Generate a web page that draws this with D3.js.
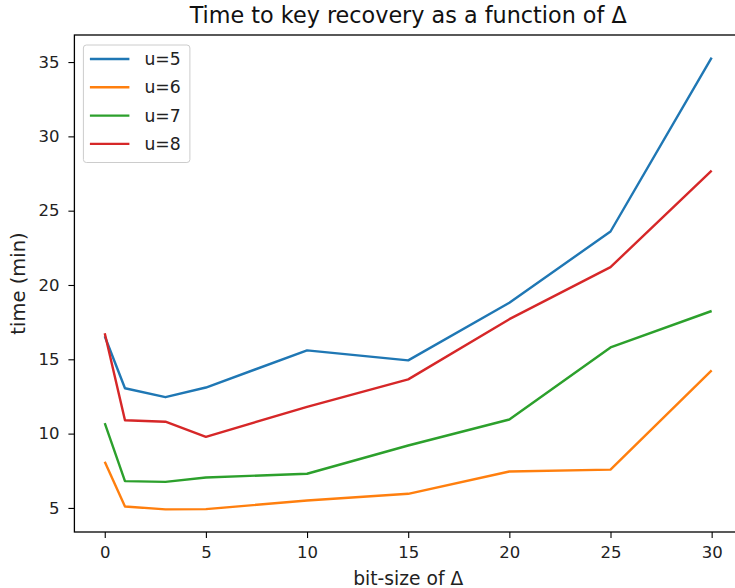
<!DOCTYPE html>
<html>
<head>
<meta charset="utf-8">
<script src="https://cdn.jsdelivr.net/npm/d3@7"></script>
<style>
  body { margin: 0; background: #fff; }
  svg { font-family: "DejaVu Sans", sans-serif; }
</style>
</head>
<body>
<svg id="chart"></svg>
<script>
// bit-size of delta
const deltas = [0, 1, 3, 5, 10, 15, 20, 25, 30];
const u5 = [16.55, 13.05, 12.45, 13.1, 15.6, 14.93, 18.8, 23.6, 35.3];
const u6 = [8.1, 5.1, 4.9, 4.92, 5.5, 5.95, 7.45, 7.58, 14.25];
const u7 = [10.7, 6.8, 6.75, 7.05, 7.3, 9.2, 10.95, 15.8, 18.25];
const u8 = [16.75, 10.9, 10.8, 9.78, 11.8, 13.65, 17.7, 21.2, 27.7];
const seriesNames = ["u=5", "u=6", "u=7", "u=8"];
const colors = ["#1f77b4", "#ff7f0e", "#2ca02c", "#d62728"];
const xTicks = [0, 5, 10, 15, 20, 25, 30];
const yTicks = [5, 10, 15, 20, 25, 30, 35];

const series = [u5, u6, u7, u8].map((vals, i) => ({
  name: seriesNames[i],
  color: colors[i],
  points: vals.map((v, j) => [deltas[j], v])
}));

const W = 735, H = 588;
const margin = { top: 35, right: -7, bottom: 56, left: 74.4 };
const width = W - margin.left - margin.right;
const height = H - margin.top - margin.bottom;

const svg = d3.select('#chart').attr('width', W).attr('height', H);

// matplotlib-ish 5% margins
const allVals = [].concat(u5, u6, u7, u8);
const yMin = d3.min(allVals), yMax = d3.max(allVals);
const yPad = (yMax - yMin) * 0.05;
const xPad = (d3.max(deltas) - d3.min(deltas)) * 0.05;

const x = d3.scaleLinear()
  .domain([d3.min(deltas) - xPad, d3.max(deltas) + xPad])
  .range([0, width]);
const y = d3.scaleLinear()
  .domain([yMin - yPad, yMax + yPad])
  .range([height, 0]);

const g = svg.append('g')
  .attr('transform', `translate(${margin.left},${margin.top})`);

// axes
const xAxis = g.append('g')
  .attr('transform', `translate(0,${height})`)
  .call(d3.axisBottom(x).tickValues(xTicks).tickSize(6).tickPadding(8));
const yAxis = g.append('g')
  .call(d3.axisLeft(y).tickValues(yTicks).tickSize(6).tickPadding(9));

[xAxis, yAxis].forEach(a => {
  a.select('.domain').remove();
  a.selectAll('line').attr('stroke', '#000').attr('stroke-width', 1.1);
  a.selectAll('text').attr('fill', '#222').style('font-size', '16.5px')
    .style('font-family', '"DejaVu Sans", sans-serif');
});

// frame
g.append('rect')
  .attr('x', 0).attr('y', 0)
  .attr('width', width).attr('height', height)
  .attr('fill', 'none').attr('stroke', '#000').attr('stroke-width', 1.3);

// lines
const line = d3.line().x(d => x(d[0])).y(d => y(d[1]));
series.forEach(s => {
  g.append('path')
    .datum(s.points)
    .attr('d', line)
    .attr('fill', 'none')
    .attr('stroke', s.color)
    .attr('stroke-width', 2.4)
    .attr('stroke-linejoin', 'round');
});

// title and labels
svg.append('text')
  .attr('x', margin.left + width / 2).attr('y', 23)
  .attr('text-anchor', 'middle')
  .style('font-size', '22.3px').attr('fill', '#111')
  .text('Time to key recovery as a function of Δ');

svg.append('text')
  .attr('x', margin.left + width / 2).attr('y', 585)
  .attr('text-anchor', 'middle')
  .style('font-size', '18.7px').attr('fill', '#222')
  .text('bit-size of Δ');

svg.append('text')
  .attr('transform', `translate(25,${margin.top + height / 2}) rotate(-90)`)
  .attr('text-anchor', 'middle')
  .style('font-size', '19.5px').attr('fill', '#222')
  .text('time (min)');

// legend
const legend = g.append('g').attr('transform', 'translate(9,10)');
legend.append('rect')
  .attr('width', 106.5).attr('height', 117.5).attr('rx', 3)
  .attr('fill', '#fff').attr('fill-opacity', 0.8)
  .attr('stroke', '#ccc').attr('stroke-width', 1);
series.forEach((s, i) => {
  const row = legend.append('g').attr('transform', `translate(0,${14 + i * 28.3})`);
  row.append('line')
    .attr('x1', 6.5).attr('x2', 46)
    .attr('stroke', s.color).attr('stroke-width', 2.4);
  row.append('text')
    .attr('x', 61).attr('y', 6)
    .style('font-size', '17.2px').attr('fill', '#222')
    .text(s.name);
});
</script>
</body>
</html>
